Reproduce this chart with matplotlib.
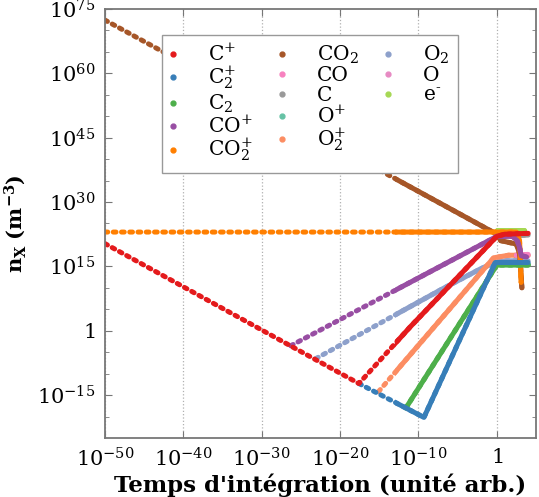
import numpy as np
import matplotlib
matplotlib.use('Agg')
import matplotlib.pyplot as plt
from matplotlib.lines import Line2D
from matplotlib.patches import Rectangle

params = {'font.family': 'DejaVu Serif',
          'mathtext.fontset': 'dejavuserif',
          'xtick.labelsize': 15,
          'ytick.labelsize': 15,
          'axes.labelsize': 15}
plt.rcParams.update(params)

# species, legend labels and colours (legend order)
labels = [r'C$^{+}$', r'C$_2^{+}$', r'C$_2$', r'CO$^{+}$', r'CO$_2^{+}$',
          r'CO$_2$', 'CO', 'C', r'O$^{+}$', r'O$_2^{+}$',
          r'O$_2$', 'O', r'e$^{\text{-}}$']
colors = ['#e41a1c', '#377eb8', '#4daf4a', '#984ea3', '#ff7f00',
          '#a65628', '#f781bf', '#999999', '#66c2a5', '#fc8d62',
          '#8da0cb', '#e78ac3', '#a6d854']

# log10(time) / log10(density)
lt_Cp = [-50, -17.6, -11.0, 0.0, 1.0, 4.0]
ln_Cp = [20.3, -12.3, 1.0, 22.0, 22.5, 22.7]
lt_C2p = [-17.6, -9.3, -0.2, 4.0]
ln_C2p = [-12.3, -20.2, 15.9, 15.9]
lt_C2 = [-11.6, 0.0, 4.0]
ln_C2 = [-18.0, 15.3, 15.3]
lt_COp = [-26.3, 0.0, 2.0, 2.6, 2.9, 3.1, 3.8]
ln_COp = [-3.5, 22.0, 22.0, 21.0, 19.5, 17.5, 17.2]
lt_CO2p = [-50, 2.5, 2.7, 2.9, 3.0, 3.1]
ln_CO2p = [23.0, 23.0, 22.3, 21.0, 17.5, 11.3]
lt_CO2 = [-50, 0.0, 0.5, 2.5, 2.9, 3.1, 3.2]
ln_CO2 = [72.4, 22.5, 21.0, 20.2, 18.0, 13.0, 10.0]
lt_CO = [2.5, 4.0]
ln_CO = [17.6, 17.8]
lt_C = [0.0, 4.0]
ln_C = [22.0, 22.3]
lt_Op = [0.0, 4.0]
ln_Op = [15.5, 15.5]
lt_O2p = [-15.1, -0.4, 1.5, 4.0]
ln_O2p = [-14.2, 17.0, 17.6, 17.6]
lt_O2 = [-23.1, -7.0, -2.0, 0.0, 1.0, 4.0]
ln_O2 = [-6.5, 9.7, 14.5, 16.0, 16.3, 16.3]
lt_O = [2.5, 4.0]
ln_O = [17.4, 17.5]
lt_e = [0.0, 3.5]
ln_e = [23.4, 23.4]

series_t = [lt_Cp, lt_C2p, lt_C2, lt_COp, lt_CO2p, lt_CO2, lt_CO, lt_C,
            lt_Op, lt_O2p, lt_O2, lt_O, lt_e]
series_n = [ln_Cp, ln_C2p, ln_C2, ln_COp, ln_CO2p, ln_CO2, ln_CO, ln_C,
            ln_Op, ln_O2p, ln_O2, ln_O, ln_e]

xticks = [1e-50, 1e-40, 1e-30, 1e-20, 1e-10, 1]
xticklabels = [r'$10^{-50}$', r'$10^{-40}$', r'$10^{-30}$', r'$10^{-20}$', r'$10^{-10}$', r'$1$']
yticks = [1e-15, 1, 1e15, 1e30, 1e45, 1e60, 1e75]
yticklabels = [r'$10^{-15}$', r'$1$', r'$10^{15}$', r'$10^{30}$', r'$10^{45}$', r'$10^{60}$', r'$10^{75}$']

fig = plt.figure(figsize=(5.39, 4.97), dpi=100)
ax = fig.add_axes([0.1948, 0.1187, 0.7996, 0.8633])
ax.set_xscale('log')
ax.set_yscale('log')
ax.set_xlim(1e-50, 1e5)
ax.set_ylim(1e-25, 1e75)

lw = 3.6
for i in reversed(range(len(labels))):
    t = 10.0 ** np.array(series_t[i], dtype=float)
    n = 10.0 ** np.array(series_n[i], dtype=float)
    # sparse time steps -> dotted
    ax.plot(t, n, color=colors[i], lw=lw, dashes=(0.55, 1.1),
            dash_capstyle='round', solid_capstyle='round')
    # dense time steps near the end -> solid
    ln, = ax.plot(t, n, color=colors[i], lw=lw, solid_capstyle='round')
    ln.set_clip_path(Rectangle((1e-13, 1e-30), 1e12, 1e110, transform=ax.transData))

ax.set_xticks(xticks)
ax.set_xticklabels(xticklabels)
ax.set_yticks(yticks)
ax.set_yticklabels(yticklabels)
ax.xaxis.set_minor_locator(plt.NullLocator())
ax.set_yticks([10.0 ** k for k in range(-20, 75, 5) if k % 15 != 0], minor=True)
ax.yaxis.set_minor_formatter(plt.NullFormatter())

ax.grid(axis='x', which='major', linestyle=':', color='#b0b0b0', lw=0.9)
for sp in ax.spines.values():
    sp.set_color('#777777')
    sp.set_linewidth(1.3)
ax.tick_params(which='both', direction='in', top=True, right=True, color='#777777')
ax.tick_params(which='major', length=5, pad=7)
ax.tick_params(which='minor', length=3)

ax.set_xlabel("Temps d'intégration (unité arb.)", fontweight='bold', fontsize=16.5, labelpad=2)
ax.set_ylabel(r'$\mathbf{n_{X}\ (m^{-3})}$', labelpad=6)

handles = [Line2D([], [], marker='o', ls='none', ms=3.5, color=c) for c in colors]
leg_labels = list(labels)
handles += [Line2D([], [], ls='none'), Line2D([], [], ls='none')]
leg_labels += ['', '']
ax.legend(handles, leg_labels, ncol=3, loc='upper left',
          bbox_to_anchor=(0.132, 0.939), borderaxespad=0, fontsize=14.5,
          handlelength=0.3, handletextpad=1.6, columnspacing=1.3,
          labelspacing=0.02, borderpad=0.4, fancybox=False, framealpha=1,
          edgecolor='#999999')

plt.savefig('out.png', dpi=100)
